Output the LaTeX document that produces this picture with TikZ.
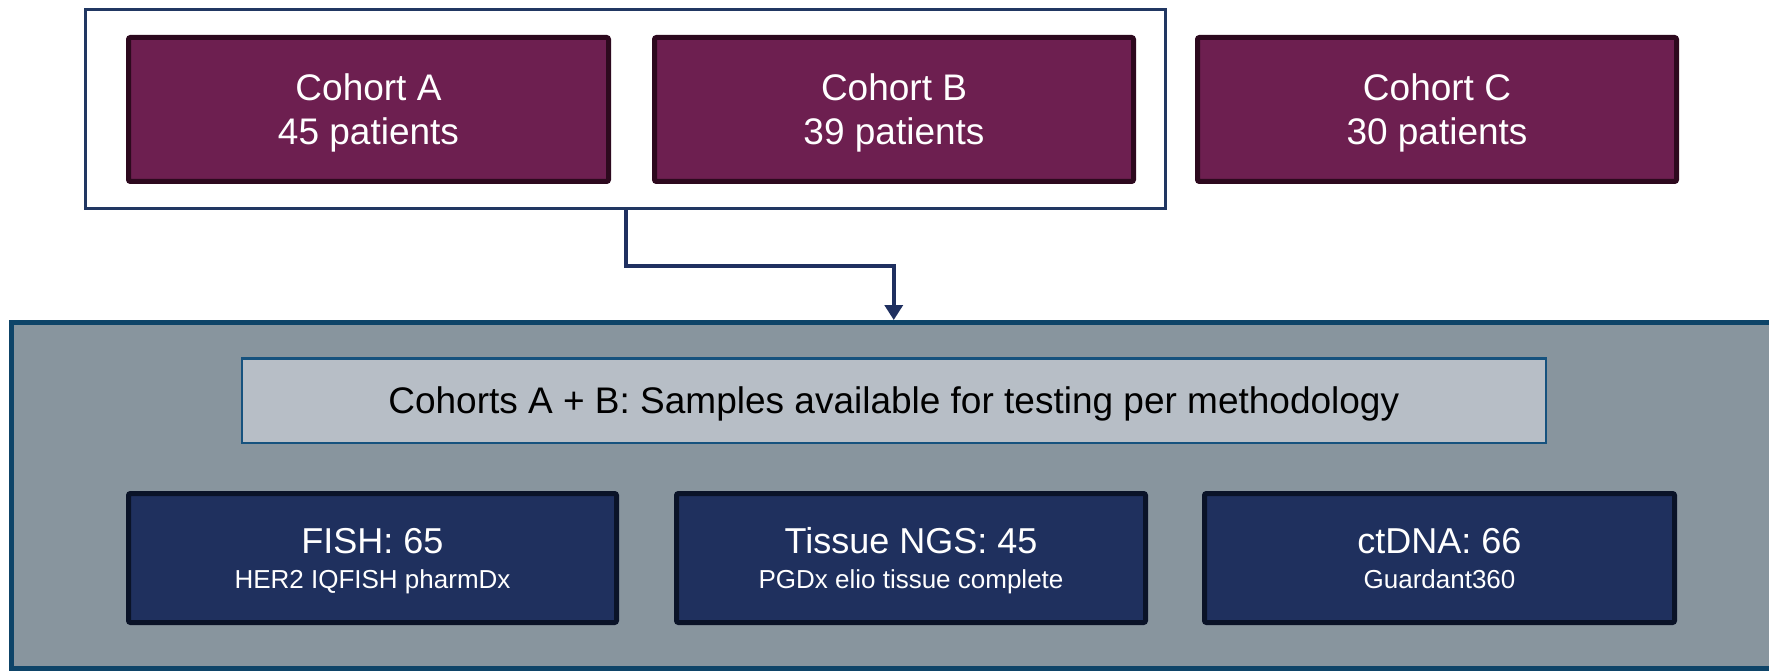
\documentclass[tikz,border=0pt]{standalone}
\usepackage{fontspec}
\setmainfont{Liberation Sans}
\usetikzlibrary{arrows.meta,calc}
\definecolor{cohortfill}{RGB}{109,31,80}
\definecolor{cohortline}{RGB}{45,9,30}
\definecolor{methodfill}{RGB}{31,48,94}
\definecolor{methodline}{RGB}{10,19,40}
\definecolor{outerline}{RGB}{33,55,98}
\definecolor{connline}{RGB}{31,48,96}
\definecolor{panelfill}{RGB}{136,149,158}
\definecolor{panelline}{RGB}{14,68,104}
\definecolor{bandfill}{RGB}{183,190,198}
\definecolor{bandline}{RGB}{22,82,126}
\begin{document}
\begin{tikzpicture}[x=1pt,y=-1pt,
  every node/.style={inner sep=0pt},
  groupbox/.style={draw=outerline,line width=3pt,fill=white,minimum width=1079.7pt,minimum height=199.3pt},
  cohortbox/.style={draw=cohortline,fill=cohortfill,line width=5pt,rounded corners=2pt,
    minimum height=144pt,text=white,align=center,text depth=0pt,font=\fontsize{37}{44}\selectfont},
  panelbox/.style={draw=panelline,fill=panelfill,line width=5pt,minimum width=1779pt,minimum height=346pt},
  bandbox/.style={draw=bandline,fill=bandfill,line width=2.5pt,minimum width=1304pt,minimum height=84.5pt,
    text=black,text depth=0pt,font=\fontsize{37}{44}\selectfont},
  methodbox/.style={draw=methodline,fill=methodfill,line width=5pt,rounded corners=2pt,
    minimum height=129pt,text=white,align=center,text depth=-4pt,font=\fontsize{26}{34}\selectfont},
  conn/.style={draw=connline,line width=3.5pt,-{Triangle[width=18pt,length=15pt]}}
]
\clip (0,0) rectangle (1769,671);
\fill[white] (0,0) rectangle (1769,671);

\node[groupbox] (ab) at (625.8,109.3) {};
\node[cohortbox,minimum width=480pt] (ca) at (368.5,109.5) {Cohort A\\45 patients};
\node[cohortbox,minimum width=479pt] (cb) at (894,109.5) {Cohort B\\39 patients};
\node[cohortbox,minimum width=479pt] (cc) at (1437,109.5) {Cohort C\\30 patients};

\node[panelbox] (panel) at (900.5,495.5) {};
\node[bandbox] (band) at (893.75,400.5) {Cohorts A + B: Samples available for testing per methodology};

\node[methodbox,minimum width=488pt] (fish) at (372.5,558)
  {{\fontsize{36}{44}\selectfont FISH: 65}\\[1pt]HER2 IQFISH pharmDx};
\node[methodbox,minimum width=469pt] (ngs) at (911,558)
  {{\fontsize{36}{44}\selectfont Tissue NGS: 45}\\[1pt]PGDx elio tissue complete};
\node[methodbox,minimum width=470pt] (ctdna) at (1439.5,558)
  {{\fontsize{36}{44}\selectfont ctDNA: 66}\\[1pt]Guardant360};

\draw[conn] (ab.south) -- ++(0,55.5) -| (band.north |- panel.north);
\end{tikzpicture}
\end{document}
